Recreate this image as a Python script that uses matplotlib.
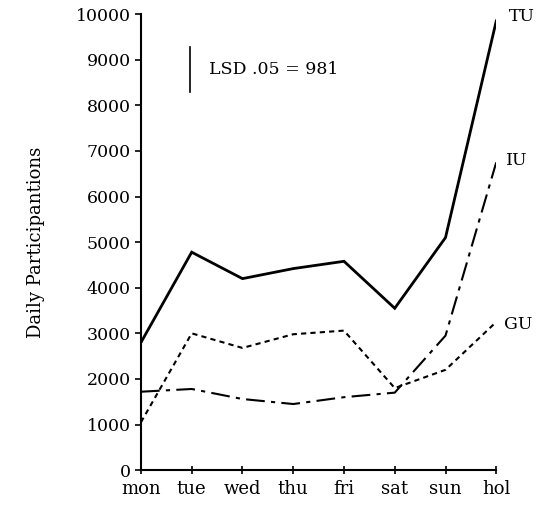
import matplotlib.pyplot as plt

days = ['mon', 'tue', 'wed', 'thu', 'fri', 'sat', 'sun', 'hol']
tu = [2800, 4780, 4200, 4420, 4580, 3550, 5100, 9850]
iu = [1720, 1780, 1560, 1450, 1600, 1700, 2950, 6750]
gu = [1050, 3000, 2680, 2980, 3060, 1800, 2200, 3250]
lsd = 981

plt.rcParams['font.family'] = ['DejaVu Serif']

fig = plt.figure(figsize=(5.4, 5.05), dpi=100)
ax = fig.add_axes([0.261, 0.069, 0.658, 0.903])

x = range(len(days))
ax.plot(x, tu, color='black', lw=2.0, solid_joinstyle='miter')
ax.plot(x, iu, color='black', lw=1.5, dashes=(9, 3, 2, 3))
ax.plot(x, gu, color='black', lw=1.5, dashes=(2.5, 2))

# LSD bar
ax.plot([0.97, 0.97], [8290, 8290 + lsd], color='black', lw=1.2)
ax.text(1.35, 8780, 'LSD .05 = 981', fontsize=12.5, va='center')

# series labels at right end
ax.text(7.25, 9950, 'TU', fontsize=12.5, va='center')
ax.text(7.2, 6800, 'IU', fontsize=12.5, va='center')
ax.text(7.15, 3200, 'GU', fontsize=12.5, va='center')

ax.set_xlim(0, 7)
ax.set_ylim(0, 10000)
ax.set_xticks(list(x))
ax.set_xticklabels(days, fontsize=13)
ax.set_yticks(range(0, 10001, 1000))
ax.tick_params(axis='y', labelsize=12.5, length=4, width=1.2, direction='out')
ax.tick_params(axis='x', length=6, width=1.2, direction='inout', pad=4)
for s in ['top', 'right']:
    ax.spines[s].set_visible(False)
for s in ['left', 'bottom']:
    ax.spines[s].set_linewidth(1.5)
ax.set_ylabel('Daily Participantions', fontsize=13, labelpad=22)
ax.patch.set_alpha(0)

fig.savefig('out.png', dpi=100)
